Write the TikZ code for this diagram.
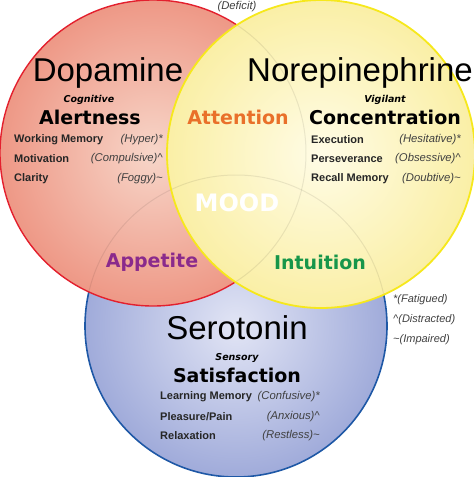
\documentclass[tikz,border=0pt]{standalone}
\usepackage{fontspec}
\setmainfont{Liberation Sans}
\newfontfamily\verd{DejaVu Sans}
\definecolor{redIn}{HTML}{F7D6C9}
\definecolor{redOut}{HTML}{EE9886}
\definecolor{redLine}{HTML}{E3202E}
\definecolor{yelIn}{HTML}{FFFCE6}
\definecolor{yelOut}{HTML}{FAEFA6}
\definecolor{yelLine}{HTML}{F6E81C}
\definecolor{bluIn}{HTML}{E2E5F5}
\definecolor{bluOut}{HTML}{A0ABDA}
\definecolor{bluLine}{HTML}{1E58A6}
\definecolor{attC}{HTML}{E9702A}
\definecolor{appC}{HTML}{8A2A8C}
\definecolor{intC}{HTML}{17964A}
\begin{document}
\begin{tikzpicture}[x=1pt,y=-1pt,
  chem/.style={font=\fontsize{33}{33}\selectfont, text=black, inner sep=0},
  head/.style={font=\verd\bfseries\fontsize{19}{19}\selectfont, inner sep=0},
  sub/.style={font=\verd\bfseries\itshape\fontsize{9.5}{9.5}\selectfont, inner sep=0},
  item/.style={font=\bfseries\fontsize{11}{11}\selectfont, text=black!85, anchor=west, inner sep=0},
  note/.style={font=\itshape\fontsize{11.3}{11.3}\selectfont, text=black!75, anchor=east, inner sep=0},
  legend/.style={font=\itshape\fontsize{11}{11}\selectfont, text=black!75, anchor=west, inner sep=0},
  faint/.style={draw=black, draw opacity=0.08, line width=1pt}]
\useasboundingbox (0,0) rectangle (474,477);
\coordinate (R) at (153,153);
\coordinate (Y) at (321,154);
\coordinate (B) at (236,326);
% blue circle
\shade[inner color=bluIn, outer color=bluOut] (B) circle[radius=151pt];
\draw[bluLine, line width=1.6pt] (B) circle[radius=151pt];
% red circle
\shade[inner color=redIn, outer color=redOut] (R) circle[radius=153pt];
\draw[redLine, line width=1.4pt] (R) circle[radius=153pt];
\begin{scope}
  \clip (R) circle[radius=152pt];
  \draw[faint] (B) circle[radius=151pt];
\end{scope}
% yellow circle
\shade[inner color=yelIn, outer color=yelOut] (Y) circle[radius=154pt];
\begin{scope}
  \clip (Y) circle[radius=153pt];
  \draw[faint] (R) circle[radius=153pt];
  \draw[faint] (B) circle[radius=151pt];
\end{scope}
\draw[yelLine, line width=1.8pt] (Y) circle[radius=154pt];

% top note
\node[note, anchor=center] (deficit) at (237,7) {(Deficit)};

% Dopamine
\node[chem] (dop) at (108,73) {Dopamine};
\node[sub] (cog) at (89,100) {Cognitive};
\node[head] (alert) at (90,117) {Alertness};
\node[item] (wm) at (14,140) {Working Memory};
\node[item] (mot) at (14,159) {Motivation};
\node[item] (cla) at (14,179) {Clarity};
\node[note] (hyp) at (163,140) {(Hyper)*};
\node[note] (comp) at (163,159) {(Compulsive)\^{}};
\node[note] (fog) at (163,179) {(Foggy)\textasciitilde};

% Norepinephrine
\node[chem] (nor) at (360,73) {Norepinephrine};
\node[sub] (vig) at (385,100) {Vigilant};
\node[head] (conc) at (385,117) {Concentration};
\node[item] (exe) at (311,140) {Execution};
\node[item] (per) at (311,159) {Perseverance};
\node[item] (rec) at (311,179) {Recall Memory};
\node[note] (hes) at (461,140) {(Hesitative)*};
\node[note] (obs) at (461,159) {(Obsessive)\^{}};
\node[note] (dou) at (461,179) {(Doubtive)\textasciitilde};

% Serotonin
\node[chem] (ser) at (237,328) {Serotonin};
\node[sub] (sen) at (237,358) {Sensory};
\node[head] (sat) at (237,375) {Satisfaction};
\node[item] (lm) at (160,397) {Learning Memory};
\node[item] (pp) at (160,417) {Pleasure/Pain};
\node[item] (rel) at (160,436) {Relaxation};
\node[note] (con) at (320,397) {(Confusive)*};
\node[note] (anx) at (320,417) {(Anxious)\^{}};
\node[note] (res) at (320,436) {(Restless)\textasciitilde};

% intersections
\node[head, text=attC] (att) at (238,117) {Attention};
\node[font=\verd\bfseries\fontsize{24}{24}\selectfont, text=white, inner sep=0] (mood) at (237,203) {MOOD};
\node[head, text=appC] (app) at (152,262) {Appetite};
\node[head, text=intC] (int) at (320,262) {Intuition};

% legend
\node[legend] (fat) at (393,300) {*(Fatigued)};
\node[legend] (dis) at (393,320) {\^{}(Distracted)};
\node[legend] (imp) at (393,340) {\textasciitilde(Impaired)};
\end{tikzpicture}
\end{document}
